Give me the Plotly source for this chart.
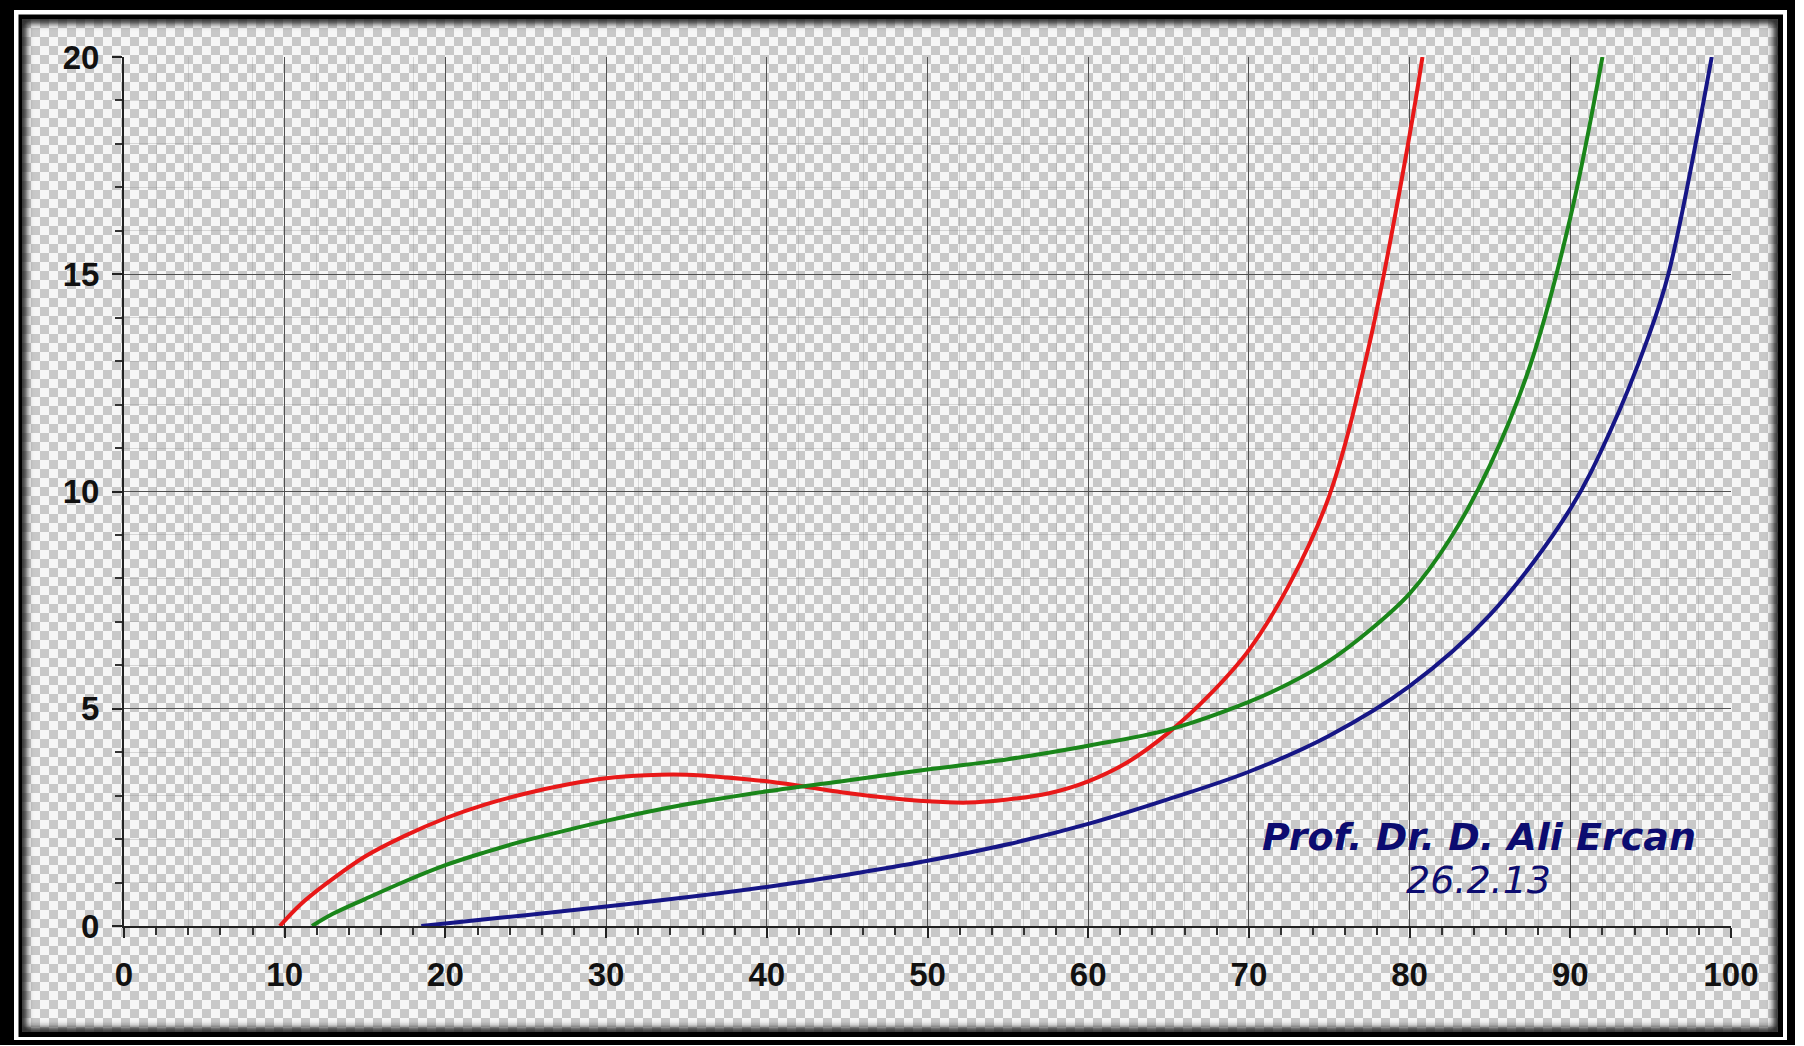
import base64
import plotly.graph_objects as go

# ---------------- data ----------------
red_x = [9.7, 11, 12.5, 15, 17.5, 20, 22.5, 25, 27.5, 30, 32.5, 35, 37.5, 40, 42.5, 45,
         47.5, 50, 52.5, 55, 57.5, 60, 62.5, 65, 67.5, 70, 72.5, 75, 77.5, 80, 80.8]
red_y = [0, 0.5, 0.95, 1.6, 2.08, 2.48, 2.8, 3.05, 3.25, 3.4, 3.47, 3.48, 3.42, 3.33,
         3.2, 3.06, 2.95, 2.87, 2.84, 2.91, 3.05, 3.33, 3.78, 4.45, 5.3, 6.35, 7.85, 9.9,
         13.4, 18.2, 20]

green_x = [11.7, 13, 15, 17.5, 20, 22.5, 25, 27.5, 30, 35, 40, 45, 50, 55, 60, 65,
           70, 72.5, 75, 77.5, 80, 82.5, 85, 87.5, 90, 92]
green_y = [0, 0.28, 0.62, 1.03, 1.40, 1.70, 1.97, 2.2, 2.42, 2.8, 3.1, 3.35, 3.6, 3.84,
           4.15, 4.52, 5.16, 5.58, 6.1, 6.8, 7.65, 8.9, 10.6, 12.9, 16.3, 20]

blue_x = [18.5, 20, 25, 30, 35, 40, 45, 50, 55, 60, 65, 70, 75, 80, 85, 90, 92.5,
          94.8, 96.1, 98.8]
blue_y = [0, 0.06, 0.25, 0.45, 0.66, 0.9, 1.18, 1.5, 1.88, 2.35, 2.92, 3.55, 4.38,
          5.52, 7.16, 9.6, 11.4, 13.5, 15, 20]

x_ticks = [0, 10, 20, 30, 40, 50, 60, 70, 80, 90, 100]
y_ticks = [0, 5, 10, 15, 20]

author_text = "Prof. Dr. D. Ali Ercan"
date_text = "26.2.13"

# ---------------- layout geometry ----------------
FW, FH = 1804, 1046
L, R, T, B = 124, 1731, 57, 926
PW, PH = R - L, B - T


def px_x(p):
    return (p - L) / PW


def px_y(p):
    return (B - p) / PH


# background: frame + checkerboard (decoration)
svg = f'''<svg xmlns="http://www.w3.org/2000/svg" width="{FW}" height="{FH}" viewBox="0 0 {FW} {FH}" preserveAspectRatio="none">
<defs>
<pattern id="c" width="18" height="18" patternUnits="userSpaceOnUse" x="22" y="19">
<rect width="18" height="18" fill="#f6f6f6"/>
<rect width="9" height="9" fill="#c8c8c8"/>
<rect x="9" y="9" width="9" height="9" fill="#c8c8c8"/>
</pattern>
<filter id="b" x="-5%" y="-5%" width="110%" height="110%"><feGaussianBlur stdDeviation="3"/></filter>
<clipPath id="k"><rect x="22" y="19" width="1756" height="1013"/></clipPath>
</defs>
<rect width="{FW}" height="{FH}" fill="white"/>
<rect x="0" y="0" width="1795" height="1045" fill="black"/>
<rect x="14" y="10" width="1773" height="1030" fill="white"/>
<rect x="18.5" y="14.5" width="1764.5" height="1022.5" fill="black"/>
<rect x="22" y="19" width="1756" height="1013" fill="url(#c)"/>
<g clip-path="url(#k)"><rect x="22" y="19" width="1756" height="1013" fill="none" stroke="#222" stroke-width="9" filter="url(#b)"/></g>
</svg>'''
src = "data:image/svg+xml;base64," + base64.b64encode(svg.encode()).decode()

fig = go.Figure()
line_common = dict(width=4, shape="spline", smoothing=1.0)
fig.add_trace(go.Scatter(x=red_x, y=red_y, mode="lines",
                         line=dict(color="#e81818", **line_common), hoverinfo="skip"))
fig.add_trace(go.Scatter(x=green_x, y=green_y, mode="lines",
                         line=dict(color="#1a861a", **line_common), hoverinfo="skip"))
fig.add_trace(go.Scatter(x=blue_x, y=blue_y, mode="lines",
                         line=dict(color="#161686", **line_common), hoverinfo="skip"))

tickfont = dict(family="Arial, Liberation Sans, sans-serif", size=33, color="#111", weight="bold")
axis_common = dict(
    showgrid=True, gridcolor="#505050", gridwidth=1.3,
    showline=True, linecolor="#222", linewidth=2,
    ticks="outside", ticklen=10, tickcolor="#222", tickwidth=1.5,
    tickfont=tickfont, zeroline=False, fixedrange=True,
)
minor_grid = "rgba(140,140,140,0.30)"
fig.update_xaxes(range=[0, 100], tickvals=x_ticks, ticktext=[str(v) for v in x_ticks],
                 minor=dict(dtick=2, showgrid=True, gridcolor=minor_grid,
                            gridwidth=1, ticks="outside", ticklen=7, tickcolor="#333"),
                 ticklabelstandoff=8, **axis_common)
fig.update_yaxes(range=[0, 20], tickvals=y_ticks, ticktext=[str(v) for v in y_ticks],
                 minor=dict(dtick=1, showgrid=True, gridcolor=minor_grid,
                            gridwidth=1, ticks="outside", ticklen=7, tickcolor="#333"),
                 ticklabelstandoff=6, **axis_common)

fig.add_annotation(x=84.3, y=2.05, xref="x", yref="y", showarrow=False,
                   text=f"<b><i>{author_text}</i></b>",
                   font=dict(family="Verdana, DejaVu Sans, sans-serif", size=38, color="#0c0c70"))
fig.add_annotation(x=84.3, y=1.06, xref="x", yref="y", showarrow=False,
                   text=f"<i>{date_text}</i>",
                   font=dict(family="Verdana, DejaVu Sans, sans-serif", size=38, color="#0c0c70"))

fig.add_layout_image(dict(source=src, xref="paper", yref="paper",
                          x=px_x(0), y=px_y(0), sizex=FW / PW, sizey=FH / PH,
                          xanchor="left", yanchor="top", sizing="stretch", layer="below"))

fig.update_layout(
    width=FW, height=FH, autosize=False,
    margin=dict(l=L, r=FW - R, t=T, b=FH - B, pad=0),
    paper_bgcolor="white", plot_bgcolor="rgba(0,0,0,0)",
    showlegend=False,
)

fig.write_html("out.html", config={"displayModeBar": False},
               post_script="document.body.style.margin='0';document.body.style.overflow='hidden';")
